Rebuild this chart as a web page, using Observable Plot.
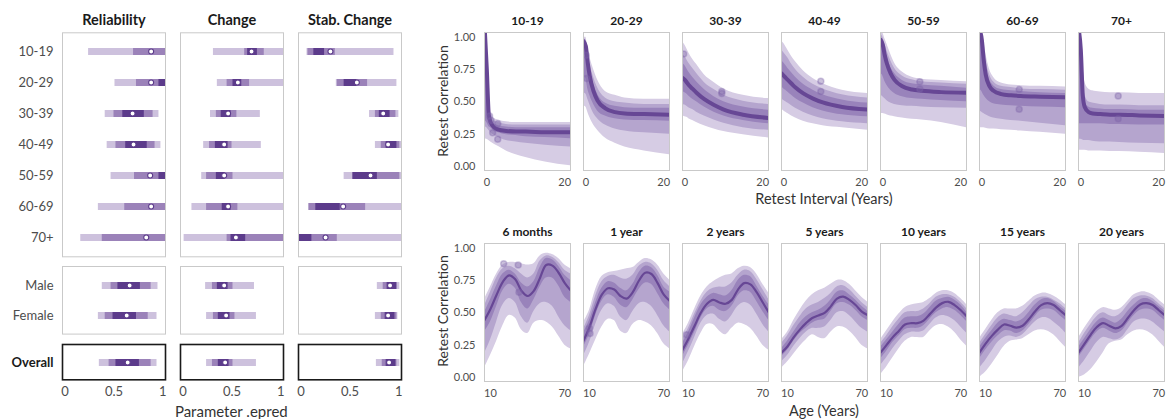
<!DOCTYPE html>
<html><head><meta charset="utf-8">
<script src="https://cdn.jsdelivr.net/npm/d3@7"></script>
<script src="https://cdn.jsdelivr.net/npm/@observablehq/plot@0.6"></script>
<style>
body{margin:0;background:#fff;}
#root{position:relative;width:1169px;height:419px;font-family:Lato,sans-serif;overflow:hidden;}
.p{position:absolute;}
.t{position:absolute;color:#333;font-size:14.5px;white-space:nowrap;transform:translate(-50%,-50%);font-family:Lato,sans-serif;}
.r{transform:translate(-50%,-50%) rotate(-90deg);font-size:14px;}
svg [aria-label="fx-axis tick label"] text{font-weight:700;fill:#1a1a1a;}
.rp [aria-label="fx-axis tick label"] text{font-size:12px;}
#g1 [aria-label="fx-axis tick label"] text{font-size:14.5px;}
#g3 [aria-label="y-axis tick label"] text{font-weight:700;fill:#1a1a1a;}
</style></head><body><div id="root"></div>
<script>
// ---------- left: posterior intervals ----------
const measures = ["Reliability", "Change", "Stab. Change"];
const rowLabels = ["10-19","20-29","30-39","40-49","50-59","60-69","70+","Male","Female","Overall"];
// each row: [lo95, hi95, lo80, hi80, lo50, hi50, point]
const reliability = [
  [0.24,1.1,0.70,1.1,1.1,1.1,0.88],
  [0.51,1.1,0.73,1.1,0.96,1.1,0.88],
  [0.41,0.96,0.50,0.90,0.59,0.81,0.69],
  [0.43,0.98,0.52,0.92,0.62,0.84,0.70],
  [0.47,1.1,0.71,1.1,0.96,1.1,0.87],
  [0.34,1.1,0.61,1.1,1.1,1.1,0.88],
  [0.16,1.1,0.38,1.1,1.1,1.1,0.83],
  [0.38,0.95,0.47,0.88,0.54,0.77,0.66],
  [0.34,0.94,0.41,0.85,0.49,0.73,0.63],
  [0.35,0.94,0.45,0.88,0.52,0.76,0.64]
];
const change = [
  [0.31,1.1,0.63,0.83,0.66,0.76,0.70],
  [0.35,1.1,0.45,0.68,0.51,0.60,0.56],
  [0.28,0.79,0.34,0.55,0.39,0.49,0.46],
  [0.21,0.80,0.27,0.50,0.33,0.46,0.42],
  [0.19,1.1,0.24,0.51,0.34,0.43,0.42],
  [0.09,1.1,0.24,0.56,0.40,0.49,0.46],
  [0.01,1.1,0.45,1.1,0.49,0.64,0.54],
  [0.23,0.73,0.30,0.51,0.35,0.46,0.42],
  [0.24,0.75,0.31,0.53,0.36,0.48,0.44],
  [0.24,0.75,0.30,0.51,0.36,0.47,0.43]
];
const stabChange = [
  [0.06,0.95,0.07,0.35,0.13,0.24,0.30],
  [0.36,0.98,0.37,0.68,0.44,0.57,0.57],
  [0.70,1.0,0.76,0.97,0.80,0.91,0.84],
  [0.76,1.1,0.82,1.01,0.87,0.98,0.89],
  [0.44,1.1,0.53,1.01,0.53,0.78,0.71],
  [0.08,1.1,0.08,0.66,0.15,0.40,0.43],
  [-0.1,1.1,-0.1,0.37,-0.1,0.11,0.25],
  [0.78,1.01,0.84,0.98,0.88,0.98,0.91],
  [0.76,0.99,0.82,0.98,0.86,0.96,0.89],
  [0.77,1.01,0.83,0.98,0.87,0.97,0.90]
];
const leftTicks = [0, 0.5, 1];

// ---------- right top: by retest interval ----------
const ageGroups = ["10-19","20-29","30-39","40-49","50-59","60-69","70+"];
const intX = [-0.6, 0, 0.5, 1, 2, 3, 5, 7.5, 10, 15, 21.5];
const intMed = [
  [1.1,0.75,0.40,0.34,0.30,0.285,0.275,0.27,0.27,0.265,0.265],
  [0.97,0.93,0.80,0.70,0.58,0.51,0.45,0.42,0.41,0.405,0.40],
  [0.685,0.67,0.65,0.63,0.60,0.57,0.52,0.475,0.44,0.40,0.375],
  [0.72,0.70,0.685,0.67,0.64,0.61,0.565,0.525,0.495,0.46,0.44],
  [0.98,0.94,0.86,0.80,0.72,0.67,0.62,0.595,0.585,0.575,0.57],
  [1.06,0.98,0.82,0.71,0.62,0.585,0.56,0.55,0.545,0.54,0.535],
  [1.07,0.90,0.55,0.46,0.42,0.41,0.405,0.40,0.40,0.395,0.39]
];
const intLo95 = [
  [0.215,0.21,0.20,0.19,0.17,0.155,0.12,0.09,0.07,0.035,0.005],
  [0.47,0.46,0.42,0.38,0.32,0.28,0.22,0.18,0.15,0.12,0.09],
  [0.39,0.385,0.38,0.37,0.355,0.34,0.315,0.29,0.27,0.245,0.22],
  [0.44,0.43,0.42,0.41,0.39,0.375,0.35,0.33,0.315,0.30,0.28],
  [0.41,0.41,0.405,0.40,0.39,0.385,0.375,0.365,0.36,0.34,0.30],
  [0.30,0.30,0.30,0.295,0.29,0.29,0.285,0.28,0.275,0.265,0.25],
  [0.125,0.125,0.125,0.125,0.12,0.12,0.12,0.115,0.115,0.11,0.10]
];
const intHi95 = [
  [1.1,1.0,0.62,0.42,0.37,0.36,0.345,0.34,0.34,0.34,0.34],
  [1.0,1.0,0.92,0.85,0.75,0.67,0.58,0.55,0.53,0.52,0.52],
  [0.96,0.94,0.91,0.88,0.83,0.79,0.71,0.65,0.60,0.55,0.525],
  [0.97,0.95,0.925,0.90,0.85,0.81,0.74,0.68,0.64,0.59,0.565],
  [1.04,1.03,0.99,0.95,0.87,0.80,0.73,0.69,0.675,0.665,0.655],
  [1.08,1.05,0.97,0.88,0.75,0.69,0.645,0.63,0.625,0.62,0.615],
  [1.1,1.06,0.80,0.66,0.60,0.585,0.575,0.57,0.57,0.565,0.565]
];
const intLo80 = [
  [0.31,0.30,0.28,0.26,0.24,0.225,0.20,0.19,0.18,0.165,0.15],
  [0.57,0.56,0.52,0.48,0.41,0.37,0.32,0.29,0.275,0.26,0.25],
  [0.48,0.475,0.465,0.455,0.44,0.42,0.39,0.36,0.335,0.30,0.28],
  [0.52,0.51,0.50,0.49,0.47,0.45,0.42,0.39,0.37,0.345,0.33],
  [0.55,0.54,0.525,0.51,0.49,0.48,0.47,0.465,0.46,0.455,0.45],
  [0.43,0.42,0.41,0.40,0.385,0.375,0.365,0.355,0.35,0.335,0.315],
  [0.21,0.21,0.205,0.20,0.20,0.195,0.19,0.19,0.185,0.18,0.175]
];
const intHi80 = [
  [1.1,0.98,0.55,0.39,0.35,0.34,0.325,0.32,0.32,0.32,0.32],
  [0.99,0.98,0.88,0.80,0.69,0.61,0.53,0.50,0.49,0.48,0.48],
  [0.87,0.85,0.825,0.80,0.76,0.72,0.65,0.595,0.55,0.505,0.48],
  [0.90,0.88,0.86,0.84,0.79,0.75,0.69,0.635,0.60,0.555,0.53],
  [1.02,1.0,0.95,0.90,0.82,0.76,0.70,0.67,0.655,0.645,0.635],
  [1.07,1.03,0.93,0.83,0.71,0.655,0.62,0.61,0.60,0.595,0.59],
  [1.09,1.03,0.70,0.56,0.50,0.49,0.48,0.475,0.475,0.47,0.47]
];
const intLo50 = [
  [0.36,0.34,0.31,0.30,0.27,0.26,0.245,0.24,0.23,0.225,0.215],
  [0.70,0.68,0.60,0.55,0.48,0.43,0.39,0.37,0.36,0.355,0.35],
  [0.58,0.57,0.56,0.545,0.52,0.50,0.46,0.42,0.39,0.355,0.33],
  [0.62,0.60,0.59,0.575,0.55,0.525,0.49,0.455,0.43,0.40,0.385],
  [0.72,0.70,0.66,0.63,0.59,0.565,0.54,0.525,0.52,0.51,0.50],
  [0.60,0.58,0.55,0.53,0.50,0.485,0.475,0.47,0.465,0.46,0.455],
  [0.33,0.33,0.33,0.33,0.33,0.33,0.33,0.325,0.325,0.32,0.32]
];
const intHi50 = [
  [1.1,0.9,0.48,0.37,0.33,0.315,0.305,0.30,0.30,0.30,0.30],
  [0.98,0.96,0.84,0.76,0.64,0.56,0.49,0.465,0.455,0.45,0.45],
  [0.80,0.78,0.755,0.73,0.69,0.655,0.595,0.54,0.50,0.46,0.435],
  [0.82,0.80,0.78,0.76,0.725,0.69,0.635,0.59,0.555,0.515,0.49],
  [1.0,0.98,0.91,0.86,0.77,0.72,0.665,0.64,0.63,0.62,0.605],
  [1.06,1.01,0.89,0.78,0.67,0.625,0.595,0.585,0.58,0.57,0.565],
  [1.08,1.0,0.62,0.50,0.46,0.45,0.445,0.44,0.44,0.435,0.435]
];
const intPtGroup = ["10-19","10-19","10-19","10-19","10-19","20-29","20-29","30-39","30-39","30-39","40-49","40-49","50-59","50-59","60-69","60-69","70+","70+"];
const intPtX = [0.7,1.1,2.8,1.5,2.8, 0.1,0.2, -0.3,9.5,9.5, 9.5,9.5, 9.5,9.5, 9.6,9.6, 9.6,9.6];
const intPtY = [0.39,0.355,0.33,0.26,0.21, 0.86,0.68, 0.87,0.58,0.565, 0.66,0.58, 0.655,0.60, 0.595,0.443, 0.545,0.37];

// ---------- right bottom: by age ----------
const intervals = ["6 months","1 year","2 years","5 years","10 years","15 years","20 years"];
const ageX = [5,10,15,20,25,30,35,40,45,50,55,60,65,70,75];
const ageMed = [
  [0.44,0.53,0.64,0.74,0.79,0.76,0.67,0.63,0.67,0.77,0.87,0.865,0.81,0.73,0.67],
  [0.28,0.39,0.53,0.64,0.69,0.68,0.63,0.61,0.66,0.75,0.81,0.80,0.73,0.64,0.59],
  [0.21,0.30,0.40,0.50,0.57,0.60,0.58,0.57,0.60,0.68,0.73,0.72,0.66,0.58,0.50],
  [0.19,0.24,0.31,0.37,0.42,0.46,0.48,0.50,0.55,0.61,0.625,0.60,0.56,0.51,0.48],
  [0.19,0.25,0.31,0.36,0.41,0.42,0.42,0.44,0.49,0.54,0.575,0.585,0.56,0.52,0.47],
  [0.19,0.26,0.32,0.37,0.41,0.40,0.385,0.40,0.45,0.51,0.56,0.575,0.56,0.52,0.48],
  [0.19,0.26,0.33,0.39,0.42,0.40,0.38,0.40,0.46,0.52,0.565,0.575,0.56,0.52,0.48]
];
const ageLo95 = [
  [0.07,0.17,0.28,0.40,0.48,0.46,0.37,0.34,0.42,0.44,0.43,0.39,0.32,0.25,0.22],
  [0.08,0.18,0.29,0.39,0.45,0.44,0.36,0.34,0.41,0.44,0.43,0.40,0.34,0.26,0.22],
  [0.04,0.13,0.24,0.34,0.41,0.41,0.36,0.33,0.38,0.42,0.41,0.38,0.32,0.25,0.21],
  [0.07,0.12,0.18,0.24,0.29,0.33,0.31,0.30,0.35,0.39,0.39,0.36,0.31,0.25,0.22],
  [0.02,0.08,0.15,0.22,0.28,0.31,0.31,0.31,0.36,0.40,0.41,0.39,0.35,0.29,0.24],
  [0.00,0.04,0.10,0.17,0.24,0.28,0.29,0.30,0.33,0.36,0.37,0.36,0.33,0.28,0.23],
  [0.00,0.02,0.06,0.12,0.19,0.26,0.28,0.29,0.33,0.36,0.37,0.36,0.33,0.28,0.23]
];
const ageHi95 = [
  [0.60,0.70,0.80,0.87,0.89,0.89,0.88,0.87,0.88,0.94,0.96,0.95,0.92,0.87,0.84],
  [0.42,0.52,0.68,0.78,0.81,0.82,0.83,0.84,0.85,0.89,0.92,0.91,0.87,0.80,0.75],
  [0.33,0.42,0.53,0.63,0.70,0.74,0.77,0.79,0.80,0.84,0.86,0.85,0.80,0.72,0.65],
  [0.29,0.35,0.44,0.52,0.59,0.64,0.67,0.69,0.72,0.75,0.75,0.72,0.67,0.62,0.58],
  [0.29,0.36,0.43,0.49,0.54,0.56,0.57,0.58,0.61,0.65,0.67,0.67,0.65,0.61,0.56],
  [0.30,0.37,0.44,0.50,0.53,0.53,0.53,0.55,0.59,0.63,0.65,0.65,0.63,0.60,0.56],
  [0.30,0.38,0.45,0.51,0.54,0.53,0.52,0.54,0.59,0.64,0.66,0.66,0.64,0.60,0.56]
];
const ageLo80 = [
  [0.18,0.29,0.43,0.56,0.61,0.58,0.47,0.42,0.51,0.57,0.58,0.55,0.47,0.40,0.36],
  [0.16,0.27,0.41,0.52,0.57,0.55,0.47,0.44,0.51,0.57,0.58,0.55,0.48,0.40,0.35],
  [0.10,0.20,0.31,0.42,0.48,0.49,0.45,0.43,0.48,0.55,0.58,0.56,0.49,0.41,0.35],
  [0.12,0.17,0.24,0.30,0.35,0.38,0.38,0.39,0.44,0.50,0.51,0.48,0.43,0.38,0.35],
  [0.09,0.15,0.22,0.28,0.33,0.35,0.35,0.36,0.41,0.46,0.48,0.47,0.44,0.39,0.34],
  [0.07,0.13,0.20,0.27,0.31,0.32,0.31,0.33,0.38,0.43,0.46,0.46,0.43,0.39,0.34],
  [0.07,0.13,0.20,0.27,0.31,0.30,0.29,0.31,0.37,0.43,0.45,0.45,0.43,0.39,0.35]
];
const ageHi80 = [
  [0.55,0.66,0.77,0.84,0.86,0.84,0.80,0.77,0.80,0.90,0.94,0.93,0.89,0.83,0.80],
  [0.37,0.48,0.63,0.74,0.78,0.79,0.77,0.76,0.79,0.86,0.89,0.88,0.83,0.75,0.70],
  [0.29,0.38,0.49,0.59,0.66,0.69,0.70,0.70,0.73,0.79,0.83,0.82,0.76,0.68,0.60],
  [0.26,0.32,0.40,0.47,0.53,0.56,0.58,0.61,0.65,0.70,0.71,0.68,0.63,0.58,0.54],
  [0.26,0.32,0.39,0.45,0.50,0.51,0.51,0.53,0.57,0.62,0.64,0.64,0.62,0.58,0.53],
  [0.26,0.33,0.40,0.46,0.49,0.48,0.47,0.50,0.55,0.60,0.62,0.62,0.60,0.57,0.53],
  [0.26,0.34,0.41,0.47,0.50,0.48,0.47,0.50,0.56,0.61,0.63,0.63,0.61,0.57,0.53]
];
const ageLo50 = [
  [0.35,0.43,0.55,0.67,0.72,0.69,0.58,0.53,0.60,0.70,0.77,0.77,0.71,0.62,0.58],
  [0.23,0.33,0.48,0.59,0.64,0.62,0.56,0.54,0.60,0.68,0.73,0.72,0.65,0.57,0.52],
  [0.16,0.25,0.35,0.46,0.53,0.55,0.52,0.51,0.55,0.63,0.67,0.66,0.59,0.51,0.44],
  [0.16,0.21,0.28,0.34,0.38,0.42,0.44,0.45,0.51,0.57,0.58,0.56,0.52,0.47,0.44],
  [0.14,0.20,0.27,0.32,0.37,0.38,0.38,0.40,0.45,0.50,0.53,0.54,0.52,0.48,0.43],
  [0.14,0.21,0.27,0.32,0.36,0.36,0.34,0.36,0.41,0.47,0.52,0.53,0.52,0.48,0.44],
  [0.15,0.22,0.29,0.35,0.38,0.36,0.34,0.36,0.42,0.48,0.52,0.53,0.52,0.48,0.44]
];
const ageHi50 = [
  [0.50,0.60,0.71,0.80,0.83,0.80,0.73,0.70,0.74,0.85,0.92,0.91,0.86,0.79,0.75],
  [0.34,0.44,0.58,0.69,0.74,0.73,0.69,0.67,0.72,0.81,0.86,0.85,0.79,0.70,0.66],
  [0.26,0.35,0.46,0.56,0.62,0.65,0.64,0.63,0.67,0.75,0.79,0.78,0.71,0.63,0.56],
  [0.22,0.28,0.35,0.42,0.47,0.50,0.52,0.55,0.60,0.66,0.67,0.64,0.60,0.55,0.51],
  [0.23,0.29,0.35,0.41,0.46,0.47,0.47,0.49,0.54,0.59,0.61,0.62,0.60,0.56,0.50],
  [0.23,0.30,0.36,0.42,0.45,0.44,0.43,0.45,0.50,0.56,0.60,0.61,0.59,0.55,0.51],
  [0.23,0.30,0.37,0.43,0.46,0.44,0.42,0.45,0.51,0.56,0.60,0.61,0.59,0.55,0.51]
];
const agePtGroup = ["6 months","6 months","6 months","1 year","1 year","2 years"];
const agePtX = [20.7, 32.4, 33, 10, 10.5, 8.5];
const agePtY = [0.88, 0.87, 0.66, 0.38, 0.34, 0.33];
const corrTicks = [0, 0.25, 0.5, 0.75, 1];

// ---------- colours ----------
const L95 = "#cdc1dd", L80 = "#9b82b9", L50 = "#5c3b8b";
const C95 = "#d6cce4", C80 = "#b5a5ce", C50 = "#9983bb", LINE = "#674795", PT = "#7d63a8";

const root = document.getElementById("root");
function place(el, left, top, id, cls) {
  el.classList.add("p"); if (cls) el.classList.add(cls);
  el.style.left = left + "px"; el.style.top = top + "px";
  if (id) el.id = id;
  root.appendChild(el);
}
function label(text, x, y, rot, size) {
  const d = document.createElement("div");
  d.className = "t" + (rot ? " r" : "");
  d.textContent = text; d.style.left = x + "px"; d.style.top = y + "px";
  if (size) d.style.fontSize = size + "px";
  root.appendChild(d);
}

const tables = {"Reliability": reliability, "Change": change, "Stab. Change": stabChange};
function leftPlot(rows, o) {
  const data = [];
  for (const m of measures) for (const r of rows) {
    const v = tables[m][rowLabels.indexOf(r)];
    data.push({m, r, lo95: v[0], hi95: v[1], lo80: v[2], hi80: v[3], lo50: v[4], hi50: v[5], pt: v[6]});
  }
  return Plot.plot({
    width: 410, height: o.height, marginLeft: 61.3, marginRight: 8.3, marginTop: o.mt, marginBottom: o.mb,
    style: {fontFamily: "Lato, sans-serif", fontSize: "13px", color: "#4d4d4d", background: "transparent"},
    fx: {domain: measures, paddingInner: 0.127, paddingOuter: 0, axis: o.fxAxis ? "top" : null, label: null, tickSize: 0, tickPadding: 8},
    x: {domain: [-0.027, 1.027], axis: o.xAxis ? "bottom" : null, ticks: leftTicks, tickFormat: d => String(d), tickSize: 0, tickPadding: 7, label: null},
    y: {type: "point", domain: rows, padding: 0.6, tickSize: 0, tickPadding: 9, label: null},
    marks: [
      Plot.ruleY(data, {fx: "m", y: "r", x1: "lo95", x2: "hi95", stroke: L95, strokeWidth: 7, clip: true}),
      Plot.ruleY(data, {fx: "m", y: "r", x1: "lo80", x2: "hi80", stroke: L80, strokeWidth: 7, clip: true}),
      Plot.ruleY(data, {fx: "m", y: "r", x1: "lo50", x2: "hi50", stroke: L50, strokeWidth: 7, clip: true}),
      Plot.dot(data, {fx: "m", x: "pt", y: "r", r: 2.5, fill: "white", stroke: L50, strokeWidth: 1.1}),
      Plot.frame({stroke: o.frame, strokeWidth: o.frameW})
    ]
  });
}
place(leftPlot(rowLabels.slice(0, 7), {height: 258, mt: 32.3, mb: 1.7, fxAxis: true, xAxis: false, frame: "#c9c9c9", frameW: 1}), 0, 0, "g1");
place(leftPlot(rowLabels.slice(7, 9), {height: 71.6, mt: 2, mb: 2, fxAxis: false, xAxis: false, frame: "#c9c9c9", frameW: 1}), 0, 263.7, "g2");
place(leftPlot(rowLabels.slice(9), {height: 60, mt: 4, mb: 20.7, fxAxis: false, xAxis: true, frame: "#1a1a1a", frameW: 1.6}), 0, 340, "g3");

function rightPlot(groups, xs, series, pts, o) {
  const [med, lo95, hi95, lo80, hi80, lo50, hi50] = series;
  const data = [];
  groups.forEach((g, i) => xs.forEach((x, j) => data.push({g, x,
    med: med[i][j], lo95: lo95[i][j], hi95: hi95[i][j], lo80: lo80[i][j], hi80: hi80[i][j], lo50: lo50[i][j], hi50: hi50[i][j]})));
  const pdata = pts[0].map((g, k) => ({g, x: pts[1][k], y: pts[2][k]}));
  return Plot.plot({
    width: 749, height: 192, marginLeft: 63.3, marginRight: 4, marginTop: 32, marginBottom: 22,
    style: {fontFamily: "Lato, sans-serif", fontSize: "11px", color: "#4d4d4d", background: "transparent"},
    fx: {domain: groups, paddingInner: 0.127, paddingOuter: 0, label: null, tickSize: 0, tickPadding: 8},
    x: {domain: o.xdom, ticks: o.xticks, tickSize: 0, tickPadding: 8, label: null},
    y: {domain: [-0.031, 1.036], ticks: corrTicks, tickFormat: d3.format(".2f"), tickSize: 0, tickPadding: 9, label: null},
    marks: [
      Plot.areaY(data, {fx: "g", x: "x", y1: "lo95", y2: "hi95", fill: C95, curve: o.curve, clip: true}),
      Plot.areaY(data, {fx: "g", x: "x", y1: "lo80", y2: "hi80", fill: C80, curve: o.curve, clip: true}),
      Plot.areaY(data, {fx: "g", x: "x", y1: "lo50", y2: "hi50", fill: C50, curve: o.curve, clip: true}),
      Plot.lineY(data, {fx: "g", x: "x", y: "med", stroke: LINE, strokeWidth: o.lw, curve: o.curve, clip: true}),
      Plot.dot(pdata, {fx: "g", x: "x", y: "y", r: 3, fill: PT, fillOpacity: 0.4, stroke: PT, strokeOpacity: 0.35, clip: true}),
      Plot.frame({stroke: "#c9c9c9"})
    ]
  });
}
place(rightPlot(ageGroups, intX, [intMed, intLo95, intHi95, intLo80, intHi80, intLo50, intHi50], [intPtGroup, intPtX, intPtY],
  {xdom: [-0.6, 21.5], xticks: [0, 20], curve: "monotone-x", lw: 4}), 420, 0, "r1", "rp");
place(rightPlot(intervals, ageX, [ageMed, ageLo95, ageHi95, ageLo80, ageHi80, ageLo50, ageHi50], [agePtGroup, agePtX, agePtY],
  {xdom: [5.2, 74.6], xticks: [10, 70], curve: "catmull-rom", lw: 2.2}), 420, 210.5, "r2", "rp");

label("Parameter .epred", 231.3, 410.5, false, 15);
label("Retest Interval (Years)", 824, 198);
label("Age (Years)", 824, 410);
label("Retest Correlation", 441.7, 100.8, true);
label("Retest Correlation", 441.7, 310.8, true);
</script></body></html>
